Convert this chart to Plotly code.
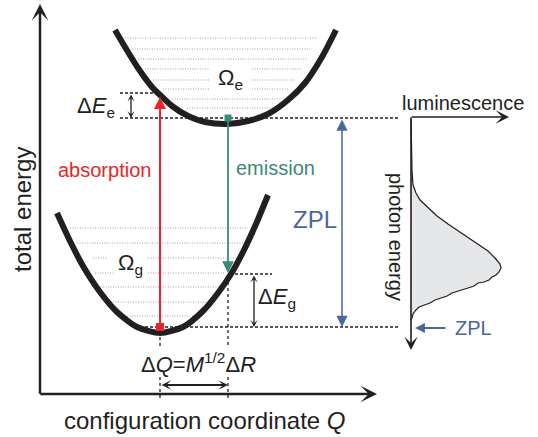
import plotly.graph_objects as go

W, H = 538, 437

# ---- potential-energy curves (x = configuration coordinate, y = energy, screen units)
exc_x = [115, 125, 138, 152, 160, 172, 188, 205, 227, 248, 268, 288, 305, 322, 336]
exc_y = [30, 47, 68, 87, 95, 106, 116, 122, 124, 121, 114, 100, 83, 57, 30]
gnd_x = [57, 70, 83, 100, 117, 137, 160, 183, 203, 218, 231, 243, 256, 268]
gnd_y = [213, 241, 266, 292, 312, 327, 333, 327, 311, 293, 274, 252, 224, 195]

# ---- vibrational levels (dotted), split where labels sit
exc_lvl_y  = [38, 49, 59, 69, 69, 80, 80, 89, 89, 99, 108]
exc_lvl_x0 = [125, 132, 138, 145, 252, 153, 252, 163, 252, 172, 187]
exc_lvl_x1 = [317, 312, 307, 210, 302, 210, 295, 210, 288, 282, 273]
gnd_lvl_y  = [228, 243, 258, 258, 273, 273, 287, 302, 316]
gnd_lvl_x0 = [70, 77, 93, 148, 95, 148, 98, 108, 127]
gnd_lvl_x1 = [248, 243, 107, 237, 115, 225, 220, 213, 197]

# ---- luminescence spectrum (x = intensity, y = photon energy)
spec_x = [411, 411.5, 412, 413, 416, 420, 428, 437, 448, 460, 477, 488, 495, 500, 501,
          499, 496, 492, 489, 484, 478, 474, 468, 462, 457, 452, 447, 441, 435, 430,
          424, 419, 416, 413, 412, 411]
spec_y = [117, 150, 170, 185, 193, 200, 208, 216, 224, 232, 243, 251, 258, 264, 268,
          272, 275, 277, 280, 282, 283, 286, 288, 290, 292, 293, 296, 298, 300, 303,
          305, 307, 310, 314, 318, 320]

# ---- key coordinates
Q_g, Q_e = 160, 228          # equilibrium coordinates
E_g0, E_e0 = 327, 118        # zero-phonon levels
E_abs, E_em = 97, 273        # absorption / emission end points

BLACK = "#231f20"
RED = "#ee2229"
GREEN = "#3a8a77"
BLUE = "#4b679b"
GRAY = "#a3a3a3"
FONT = "Liberation Sans, Arial, sans-serif"

fig = go.Figure()


def segs(x0s, x1s, ys):
    xs, yy = [], []
    for a, b, y in zip(x0s, x1s, ys):
        xs += [a, b, None]
        yy += [y, y, None]
    return xs, yy


for x0s, x1s, ys in [(exc_lvl_x0, exc_lvl_x1, exc_lvl_y), (gnd_lvl_x0, gnd_lvl_x1, gnd_lvl_y)]:
    xs, yy = segs(x0s, x1s, ys)
    fig.add_trace(go.Scatter(x=xs, y=yy, mode="lines",
                             line=dict(color=GRAY, width=1, dash="1px,1.5px")))

# spectrum
fig.add_trace(go.Scatter(x=spec_x, y=spec_y, mode="lines", fill="toself",
                         fillcolor="#e6e7e8", line=dict(color=BLACK, width=1.2)))

# dashed reference lines
dash_x0 = [120, 120, 235, 140]
dash_x1 = [158, 398, 272, 398]
dash_y = [93, E_e0, 274, E_g0]
xs, yy = segs(dash_x0, dash_x1, dash_y)
fig.add_trace(go.Scatter(x=xs, y=yy, mode="lines",
                         line=dict(color=BLACK, width=1.3, dash="3px,2px")))
# vertical dotted drop lines (interrupted by the ΔQ label)
fig.add_trace(go.Scatter(x=[Q_g, Q_g, None, Q_g, Q_g, None, Q_e, Q_e, None, Q_e, Q_e],
                         y=[337, 348, None, 377, 401, None, 276, 348, None, 377, 399],
                         mode="lines", line=dict(color=BLACK, width=1.3, dash="3px,3px")))

# potential curves
for cx, cy in [(exc_x, exc_y), (gnd_x, gnd_y)]:
    fig.add_trace(go.Scatter(x=cx, y=cy, mode="lines",
                             line=dict(color=BLACK, width=6, shape="spline", smoothing=0.7)))

annotations = []


def arrow(x, y, ax, ay, color, width, head, size, both=False):
    return dict(x=x, y=y, ax=ax, ay=ay, xref="x", yref="y", axref="x", ayref="y",
                text="", showarrow=True, arrowhead=head, arrowsize=size, arrowwidth=width,
                arrowcolor=color, arrowside="end+start" if both else "end",
                startarrowhead=head, startarrowsize=size, standoff=0, startstandoff=0)


def txt(x, y, s, size, color=BLACK, angle=0, xanchor="center"):
    return dict(x=x, y=y, xref="x", yref="y", text=s, showarrow=False, textangle=angle,
                xanchor=xanchor, yanchor="middle",
                font=dict(family=FONT, size=size, color=color))


# main axes
annotations.append(arrow(40, 4, 40, 395.3, BLACK, 2.5, 3, 1.1))
annotations.append(arrow(377, 394, 38.8, 394, BLACK, 2.5, 3, 1.1))
# luminescence axes
annotations.append(arrow(411, 350, 411, 117, BLACK, 1.6, 3, 1.4))
annotations.append(arrow(509, 117, 410.2, 117, BLACK, 1.6, 3, 1.4))

# transitions
annotations.append(arrow(Q_g, E_abs, Q_g, E_g0, RED, 2, 2, 1.2))
annotations.append(arrow(Q_e, E_em, Q_e, E_e0, GREEN, 1.8, 2, 1.3))
annotations.append(arrow(342, E_g0, 342, E_e0, BLUE, 1.5, 2, 1.5, both=True))
annotations.append(arrow(415, 328, 447, 328, BLUE, 1.8, 2, 1.1))

# small double arrows
annotations.append(arrow(131, E_e0, 131, 93, BLACK, 1.3, 3, 0.9, both=True))
annotations.append(arrow(254, E_g0, 254, 274, BLACK, 1.3, 3, 0.9, both=True))
annotations.append(arrow(Q_e, 385, Q_g, 385, BLACK, 1.8, 3, 0.9, both=True))

# texts
annotations += [
    txt(22, 210, "total energy", 24, angle=-90),
    txt(205, 420, "configuration coordinate <i>Q</i>", 24),
    txt(104, 170, "absorption", 20, RED),
    txt(275, 168, "emission", 20, GREEN),
    txt(315, 219, "ZPL", 24, BLUE),
    txt(463, 103, "luminescence", 20),
    txt(396, 237, "photon energy", 20, angle=90),
    txt(473, 328, "ZPL", 20, BLUE),
    txt(230, 79, "Ω<sub>e</sub>", 22),
    txt(130, 264, "Ω<sub>g</sub>", 22),
    txt(117, 107, "Δ<i>E</i><sub>e</sub>", 22, xanchor="right"),
    txt(256, 298, "Δ<i>E</i><sub>g</sub>", 22, xanchor="left"),
    txt(198, 363, "Δ<i>Q</i>=<i>M</i><sup>1/2</sup>Δ<i>R</i>", 22),
]

# markers at the equilibrium points
fig.add_trace(go.Scatter(x=[Q_g], y=[E_g0], mode="markers",
                         marker=dict(symbol="square", size=8, color=RED)))
fig.add_trace(go.Scatter(x=[Q_e], y=[E_e0], mode="markers",
                         marker=dict(symbol="square", size=7, color=GREEN)))

fig.update_layout(
    width=W, height=H, margin=dict(l=0, r=0, t=0, b=0),
    paper_bgcolor="white", plot_bgcolor="white", showlegend=False,
    xaxis=dict(range=[0, W], visible=False, fixedrange=True),
    yaxis=dict(range=[H, 0], visible=False, fixedrange=True),
    annotations=annotations, hovermode=False,
)

fig.write_html("out.html", config={"displayModeBar": False, "staticPlot": True},
               post_script="document.body.style.margin='0';document.body.style.overflow='hidden';")
